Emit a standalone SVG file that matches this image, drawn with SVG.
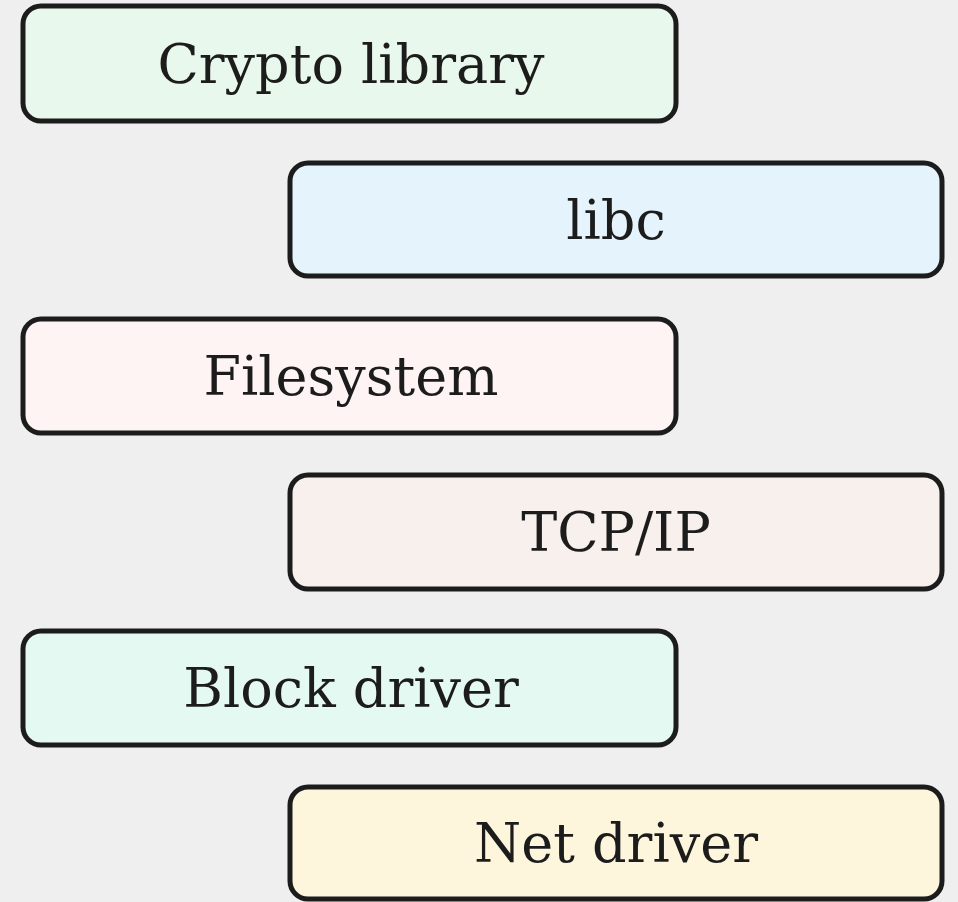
<svg xmlns="http://www.w3.org/2000/svg" width="958" height="902" viewBox="0 0 958 902">
<style>
.box{stroke:#1c1c1c;stroke-width:5;}
.lbl{font-family:"DejaVu Serif",serif;font-size:54px;fill:#1c1c1c;text-anchor:middle;}
</style>
<rect width="958" height="902" fill="#efefef"/>
<g id="crypto"><rect class="box" x="23" y="6" width="653" height="115" rx="18" fill="#e9f8ec"/><text class="lbl" x="351" y="83">Crypto library</text></g>
<g id="libc"><rect class="box" x="290" y="163" width="652" height="113" rx="18" fill="#e4f3fc"/><text class="lbl" x="616" y="239">libc</text></g>
<g id="filesystem"><rect class="box" x="23" y="319" width="653" height="114" rx="18" fill="#fdf4f3"/><text class="lbl" x="351" y="395">Filesystem</text></g>
<g id="tcpip"><rect class="box" x="290" y="475" width="652" height="114" rx="18" fill="#f8f0ec"/><text class="lbl" x="616" y="551">TCP/IP</text></g>
<g id="block"><rect class="box" x="23" y="631" width="653" height="114" rx="18" fill="#e4f9f2"/><text class="lbl" x="351" y="707">Block driver</text></g>
<g id="net"><rect class="box" x="290" y="787" width="652" height="112" rx="18" fill="#fdf6dc"/><text class="lbl" x="616" y="862">Net driver</text></g>
<g id="connectors"></g>
</svg>
